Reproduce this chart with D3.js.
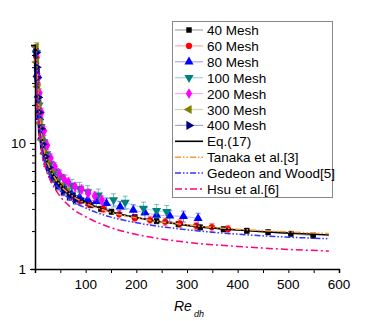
<!DOCTYPE html>
<html>
<head>
<meta charset="utf-8">
<script src="https://cdn.jsdelivr.net/npm/d3@7"></script>
<style>
  body { margin: 0; background: #fff; }
  text { font-family: Arial, "Liberation Sans", sans-serif; }
</style>
</head>
<body>
<script>
// ---- data ----
const meshNames = ["40 Mesh", "60 Mesh", "80 Mesh", "100 Mesh", "200 Mesh", "300 Mesh", "400 Mesh"];

const re40 = [4, 7, 11, 16, 23, 32, 44, 58, 75, 92, 110, 130, 151, 197, 240, 283, 326, 372, 418, 460, 505, 549];
const f40  = [37, 21, 13.2, 9.5, 7.3, 5.9, 4.95, 4.35, 3.85, 3.5, 3.22, 3.0, 2.85, 2.58, 2.4, 2.27, 2.14, 2.07, 2.01, 1.96, 1.9, 1.84];

const re60 = [3, 5, 8, 12, 17, 24, 33, 44, 57, 72, 88, 105, 135, 166, 197, 227, 257, 286, 318, 349, 381];
const f60  = [48, 29, 17.5, 11.8, 9.0, 7.0, 5.7, 4.85, 4.25, 3.8, 3.5, 3.3, 3.0, 2.72, 2.53, 2.45, 2.37, 2.3, 2.2, 2.15, 2.07];

const re80 = [2.5, 4, 6, 9, 13, 18, 25, 34, 45, 58, 72, 88, 104, 121, 141, 168, 194, 217, 240, 266, 293, 322];
const f80  = [55, 35, 24, 16, 11.2, 8.6, 6.8, 5.6, 4.8, 4.3, 3.95, 3.7, 3.55, 3.45, 3.32, 3.12, 2.94, 2.8, 2.68, 2.64, 2.62, 2.52];

const re100 = [3, 5, 8, 12, 17, 23, 30, 39, 49, 60, 73, 88, 104, 125, 155, 178, 214, 240, 260];
const f100  = [52, 32, 20, 13.5, 10.2, 8.2, 6.9, 6.0, 5.4, 4.95, 4.6, 4.35, 4.1, 3.85, 3.53, 3.38, 3.03, 2.9, 2.85];

const re200 = [2.5, 4, 6, 9, 13, 18, 24, 31, 39, 48, 57, 66, 79, 92, 105, 118, 132];
const f200  = [50, 40, 33, 25, 17.5, 12.5, 9.6, 7.6, 6.5, 5.7, 5.2, 4.9, 4.5, 4.29, 3.99, 3.79, 3.53];

const re300 = [2, 3, 5, 7, 10, 14, 19, 25, 33, 42, 52, 64];
const f300  = [58, 44, 28, 20, 14.5, 10.5, 8.2, 6.8, 5.7, 5.0, 4.5, 4.1];

const re400 = [2, 3, 4, 6, 8, 11, 15, 20, 27, 35, 45, 56, 68, 80];
const f400  = [52, 40, 33, 23, 17.5, 13, 9.8, 7.8, 6.4, 5.3, 4.6, 4.15, 3.8, 3.55];

// relative uncertainty of each mesh series, %
const errPct = [5, 7, 10, 12, 8, 8, 8];

// correlations, read at these Re
const curveRe   = [2.5, 4, 6, 8, 10, 12, 15, 20, 30, 45, 70, 100, 150, 200, 300, 400, 500, 580];
const eq17      = [60, 38, 25, 18.5, 14.8, 12.3, 10, 8.0, 6.2, 4.95, 3.95, 3.38, 2.85, 2.56, 2.22, 2.04, 1.93, 1.86];
const tanaka    = [62, 40, 26, 19, 15.2, 12.6, 10.2, 8.1, 6.2, 4.9, 3.9, 3.33, 2.82, 2.55, 2.24, 2.07, 1.97, 1.91];
const gedeon    = [52, 33, 22, 16.5, 13.2, 11.0, 9.0, 7.2, 5.55, 4.45, 3.55, 3.05, 2.58, 2.33, 2.05, 1.89, 1.79, 1.74];
const hsu       = [36, 23, 16, 12.6, 10.5, 9.2, 7.8, 6.5, 5.1, 4.0, 3.1, 2.6, 2.13, 1.88, 1.63, 1.51, 1.43, 1.39];
const curveNames = ["Eq.(17)", "Tanaka et al.[3]", "Gedeon and Wood[5]", "Hsu et al.[6]"];

const xTicks = [100, 200, 300, 400, 500, 600];
const yTicks = [1, 10];

// ---- layout ----
const width = 379, height = 321;
const svg = d3.select("body").append("svg")
    .attr("width", width)
    .attr("height", height);

const x = d3.scaleLinear().domain([0, 600]).range([35, 339]);
const y = d3.scaleLog().domain([1, 60]).range([269, 45]);

const meshColors = ["#000000", "#ff0000", "#0000ff", "#008080", "#ff00ff", "#808000", "#000080"];
const symbols = [
  { type: d3.symbolSquare, size: 30, rot: 0 },
  { type: d3.symbolCircle, size: 30, rot: 0 },
  { type: d3.symbolTriangle, size: 36, rot: 0 },
  { type: d3.symbolTriangle, size: 36, rot: 180 },
  { type: d3.symbolDiamond, size: 34, rot: 0 },
  { type: d3.symbolTriangle, size: 36, rot: -90 },
  { type: d3.symbolTriangle, size: 36, rot: 90 }
];
const curveStyles = [
  { color: "#000000", dash: null, w: 1.6 },
  { color: "#ff9933", dash: "6,2,1.5,2,1.5,2", w: 1.5 },
  { color: "#3333ff", dash: "6,2,1.5,2,1.5,2", w: 1.5 },
  { color: "#ff0080", dash: "7,3,2,3", w: 1.5 }
];

const meshData = [[re40, f40], [re60, f60], [re80, f80], [re100, f100], [re200, f200], [re300, f300], [re400, f400]]
  .map(([r, f]) => r.map((d, i) => ({ re: d, f: f[i] })));
const curveData = [eq17, tanaka, gedeon, hsu].map(vals => curveRe.map((r, i) => ({ re: r, f: vals[i] })));

// clip for the curves
svg.append("clipPath").attr("id", "plot")
  .append("rect").attr("x", 35).attr("y", 45).attr("width", 304).attr("height", 224);

const line = d3.line().x(d => x(d.re)).y(d => y(d.f));
const smooth = d3.line().x(d => x(d.re)).y(d => y(d.f)).curve(d3.curveMonotoneX);

// mesh series: connecting line, error bars, markers
meshData.forEach((data, k) => {
  const g = svg.append("g");
  const c = meshColors[k];
  const p = errPct[k] / 100;

  g.append("path")
    .datum(data)
    .attr("fill", "none")
    .attr("stroke", c)
    .attr("stroke-opacity", 0.3)
    .attr("stroke-width", 1)
    .attr("d", line);

  const eb = g.selectAll(".eb").data(data).enter().append("g")
    .attr("stroke", c)
    .attr("stroke-opacity", 0.5)
    .attr("stroke-width", 1);
  eb.append("line")
    .attr("x1", d => x(d.re)).attr("x2", d => x(d.re))
    .attr("y1", d => y(d.f * (1 - p))).attr("y2", d => y(d.f * (1 + p)));
  eb.append("line")
    .attr("x1", d => x(d.re) - 2.5).attr("x2", d => x(d.re) + 2.5)
    .attr("y1", d => y(d.f * (1 + p))).attr("y2", d => y(d.f * (1 + p)));
  eb.append("line")
    .attr("x1", d => x(d.re) - 2.5).attr("x2", d => x(d.re) + 2.5)
    .attr("y1", d => y(d.f * (1 - p))).attr("y2", d => y(d.f * (1 - p)));

  const sym = d3.symbol().type(symbols[k].type).size(symbols[k].size);
  g.selectAll(".pt").data(data).enter().append("path")
    .attr("d", sym)
    .attr("fill", c)
    .attr("transform", d => `translate(${x(d.re)},${y(d.f)}) rotate(${symbols[k].rot})`);
});

// correlation curves
const curveG = svg.append("g").attr("clip-path", "url(#plot)");
curveData.forEach((data, k) => {
  curveG.append("path")
    .datum(data)
    .attr("fill", "none")
    .attr("stroke", curveStyles[k].color)
    .attr("stroke-width", curveStyles[k].w)
    .attr("stroke-dasharray", curveStyles[k].dash)
    .attr("d", smooth);
});

// axes
const xAxis = svg.append("g").attr("transform", "translate(0,269)");
xAxis.call(d3.axisBottom(x).tickValues(d3.range(0, 601, 50)).tickSize(4).tickFormat(""));
xAxis.selectAll("line").attr("stroke-width", 1);
xAxis.select(".domain").attr("stroke-width", 1.5);
xAxis.selectAll(".lbl").data(xTicks).enter().append("text")
  .attr("x", d => x(d))
  .attr("y", 289)
  .attr("transform", "translate(0,-269)")
  .attr("text-anchor", "middle")
  .attr("font-size", 13.5)
  .attr("fill", "#000")
  .text(d => d);

const yMinor = [2, 3, 4, 5, 6, 7, 8, 9, 20, 30, 40, 50];
const yAxis = svg.append("g").attr("transform", "translate(35,0)");
yAxis.call(d3.axisLeft(y).tickValues(yTicks.concat(yMinor)).tickSize(4).tickFormat(""));
yAxis.selectAll(".tick line").attr("x2", d => yTicks.includes(d) ? -5 : -3);
yAxis.select(".domain").attr("stroke-width", 1.5);
yTicks.forEach(v => {
  svg.append("text")
    .attr("x", 26)
    .attr("y", y(v) + 5)
    .attr("text-anchor", "end")
    .attr("font-size", 13.5)
    .text(v);
});

// axis title Re_dh
const title = svg.append("text").attr("x", 174).attr("y", 311).attr("font-style", "italic");
title.append("tspan").attr("font-size", 14).text("Re");
title.append("tspan").attr("font-size", 9).attr("dx", 2).attr("dy", 6).text("dh");

// legend
const legend = svg.append("g");
legend.append("rect")
  .attr("x", 172.5).attr("y", 21.5).attr("width", 160).attr("height", 176)
  .attr("fill", "#fff").attr("stroke", "#888").attr("stroke-width", 1);

const rowY = i => 30 + i * 15.9;
meshNames.forEach((name, k) => {
  const yy = rowY(k);
  legend.append("line")
    .attr("x1", 175).attr("x2", 203).attr("y1", yy).attr("y2", yy)
    .attr("stroke", meshColors[k]).attr("stroke-opacity", 0.35).attr("stroke-width", 1.2);
  legend.append("path")
    .attr("d", d3.symbol().type(symbols[k].type).size(symbols[k].size)())
    .attr("fill", meshColors[k])
    .attr("transform", `translate(189,${yy}) rotate(${symbols[k].rot})`);
  legend.append("text")
    .attr("x", 207).attr("y", yy + 5)
    .attr("font-size", 13.5)
    .text(name);
});
curveNames.forEach((name, k) => {
  const yy = rowY(k + 7);
  legend.append("line")
    .attr("x1", 175).attr("x2", 203).attr("y1", yy).attr("y2", yy)
    .attr("stroke", curveStyles[k].color)
    .attr("stroke-width", curveStyles[k].w)
    .attr("stroke-dasharray", curveStyles[k].dash);
  legend.append("text")
    .attr("x", 207).attr("y", yy + 5)
    .attr("font-size", 13.5)
    .text(name);
});
</script>
</body>
</html>
